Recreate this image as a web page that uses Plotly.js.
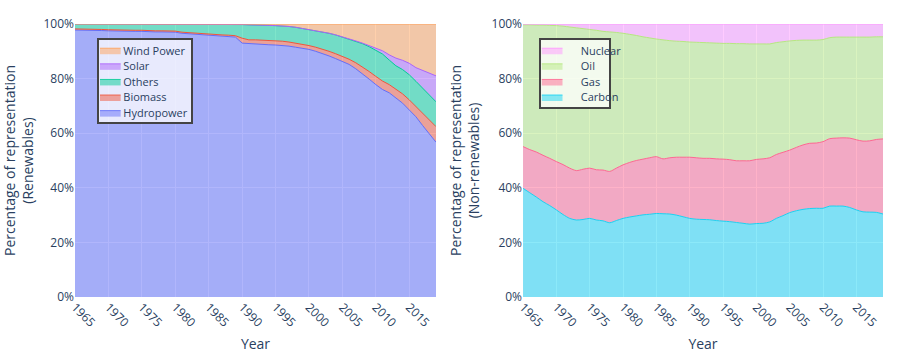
<!DOCTYPE html>
<html>
<head>
<meta charset="utf-8">
<script src="https://cdn.plot.ly/plotly-3.0.1.min.js"></script>
<style>html,body{margin:0;padding:0;background:#fff;}#chart{width:912px;height:354px;}</style>
</head>
<body>
<div id="chart"></div>
<script>
const years = [];
for (let y = 1965; y <= 2019; y++) years.push(y);

// Renewables (share of total, %)
const hydropower = [97.8,97.8,97.7,97.6,97.6,97.5,97.4,97.4,97.3,97.3,97.3,97.1,97.1,97.1,97.0,97.0,96.7,96.5,96.3,96.2,96.0,95.7,95.6,95.5,95.3,
  93.0,92.8,92.7,92.6,92.4,92.3,92.2,91.9,91.5,91.1,90.7,90.0,89.2,88.3,87.3,86.3,85.2,83.6,81.8,79.8,77.8,76.0,74.8,72.8,71.0,68.5,66.0,62.8,59.8,56.7];
const biomass = [0.4,0.4,0.4,0.4,0.4,0.4,0.4,0.4,0.4,0.4,0.4,0.4,0.4,0.4,0.4,0.4,0.4,0.4,0.4,0.4,0.4,0.5,0.5,0.5,0.5,
  1.8,1.4,1.5,1.5,1.6,1.6,1.5,1.5,1.5,1.5,1.4,1.5,1.6,1.7,1.8,1.8,1.9,2.2,2.5,2.8,3.0,3.1,3.0,3.2,3.4,3.7,3.8,4.4,5.0,5.7];
const others = [1.8,1.8,1.9,2.0,2.0,2.1,2.2,2.2,2.3,2.3,2.3,2.5,2.5,2.5,2.6,2.6,2.9,3.1,3.3,3.4,3.6,3.8,3.9,4.0,4.2,
  5.0,5.5,5.5,5.5,5.5,5.5,5.6,5.7,5.8,5.8,5.9,6.0,6.2,6.6,6.9,7.1,7.5,7.9,8.5,9.1,9.7,9.9,9.0,8.7,8.9,9.2,9.2,9.3,9.3,9.1];
const solar = [0,0,0,0,0,0,0,0,0,0,0,0,0,0,0,0,0,0,0,0,0,0,0,0,0,
  0,0,0,0,0,0,0,0,0,0,0,0,0,0,0,0.1,0.1,0.1,0.2,0.3,0.6,1.2,1.9,2.8,3.4,4.2,5.0,6.5,8.0,9.5];
const windPower = [0,0,0,0,0,0,0,0,0,0,0,0,0,0,0,0,0.1,0.1,0.1,0.1,0.1,0.1,0.1,0.1,0.1,
  0.2,0.3,0.3,0.4,0.5,0.6,0.7,0.9,1.2,1.6,2.0,2.5,3.0,3.4,4.0,4.7,5.3,6.2,7.0,8.0,8.9,9.8,11.3,12.5,13.3,14.4,16.0,17.0,17.9,19.0];

// Non-renewables (share of total, %)
const carbon = [39.8,38.2,36.6,34.9,33.5,31.9,30.2,28.8,28.2,28.4,28.8,28.2,27.9,27.2,28.0,28.8,29.3,29.7,30.1,30.3,30.6,30.5,30.4,30.0,29.4,
  28.8,28.5,28.4,28.3,28.0,27.8,27.6,27.3,27.0,26.7,26.9,27.0,27.5,28.8,29.8,30.9,31.6,32.1,32.4,32.5,32.5,33.3,33.3,33.3,32.8,31.9,31.2,31.1,31.0,30.4];
const gas = [15.3,15.8,16.5,17.0,17.3,17.7,18.3,18.4,18.1,18.4,18.4,18.4,18.6,18.8,19.2,19.6,20.0,20.3,20.4,20.7,20.8,20.1,20.6,21.2,21.8,
  22.4,22.5,22.4,22.5,22.6,22.7,22.7,22.6,22.9,23.2,23.5,23.6,23.5,23.4,23.2,22.9,23.2,23.6,23.9,23.9,24.4,24.7,24.9,25.0,25.4,25.7,25.9,26.1,26.7,27.5];
const oil = [44.6,45.7,46.5,47.7,48.7,49.8,50.7,51.7,52.3,51.5,50.8,51.1,50.8,51.1,49.7,48.2,46.9,45.8,44.8,43.9,43.1,43.6,42.9,42.5,42.4,
  42.2,42.3,42.4,42.3,42.4,42.4,42.6,42.9,42.9,42.8,42.3,42.1,41.7,41.0,40.5,40.0,39.2,38.4,37.8,37.7,37.4,37.0,37.0,36.9,37.0,37.6,38.1,38.0,37.6,37.4];
const nuclear = [0.3,0.3,0.4,0.4,0.5,0.6,0.8,1.1,1.4,1.7,2.0,2.3,2.7,2.9,3.1,3.4,3.8,4.2,4.7,5.1,5.5,5.8,6.1,6.3,6.4,
  6.6,6.7,6.8,6.9,7.0,7.1,7.1,7.2,7.2,7.3,7.3,7.3,7.3,6.8,6.5,6.2,6.0,5.9,5.9,5.9,5.7,5.0,4.8,4.8,4.8,4.8,4.8,4.8,4.7,4.7];

const leftSeries = [
  {name: 'Hydropower', y: hydropower, color: '#636efa'},
  {name: 'Biomass', y: biomass, color: '#EF553B'},
  {name: 'Others', y: others, color: '#00cc96'},
  {name: 'Solar', y: solar, color: '#ab63fa'},
  {name: 'Wind Power', y: windPower, color: '#FFA15A'}
];
const rightSeries = [
  {name: 'Carbon', y: carbon, color: '#19d3f3'},
  {name: 'Gas', y: gas, color: '#FF6692'},
  {name: 'Oil', y: oil, color: '#B6E880'},
  {name: 'Nuclear', y: nuclear, color: '#FF97FF'}
];

const traces = [];
leftSeries.forEach(s => traces.push({
  type: 'scatter', mode: 'lines', x: years, y: s.y, name: s.name,
  stackgroup: 'ren', groupnorm: 'percent',
  line: {color: s.color, width: 1}, xaxis: 'x', yaxis: 'y', legend: 'legend'
}));
rightSeries.forEach(s => traces.push({
  type: 'scatter', mode: 'lines', x: years, y: s.y, name: s.name,
  stackgroup: 'non', groupnorm: 'percent',
  line: {color: s.color, width: 1, shape: 'spline', smoothing: 0.8}, xaxis: 'x2', yaxis: 'y2', legend: 'legend2'
}));

const xax = {
  range: [1965, 2019], tick0: 1965, dtick: 5, tickangle: 45,
  gridcolor: 'white', linecolor: 'white', zeroline: false, showline: false,
  title: {text: 'Year', font: {size: 14}}, automargin: false
};
const yax = {
  range: [0, 100], dtick: 20, ticksuffix: '%',
  gridcolor: 'white', zerolinecolor: 'white', showline: false, automargin: false
};
const legendBase = {
  bgcolor: 'rgba(255,255,255,0.75)', bordercolor: '#444', borderwidth: 2,
  traceorder: 'reversed', xanchor: 'left', yanchor: 'top', font: {size: 11},
  itemwidth: 30
};

const layout = {
  width: 912, height: 354,
  margin: {l: 75, r: 29, t: 24, b: 57},
  paper_bgcolor: 'white', plot_bgcolor: '#E5ECF6',
  font: {family: '"Open Sans", verdana, arial, sans-serif', color: '#2a3f5f', size: 12},
  showlegend: true,
  xaxis: Object.assign({}, xax, {domain: [0, 0.4468], anchor: 'y'}),
  yaxis: Object.assign({}, yax, {domain: [0, 1], anchor: 'x',
    title: {text: 'Percentage of representation<br>(Renewables)', font: {size: 14}, standoff: 24}}),
  xaxis2: Object.assign({}, xax, {domain: [0.5545, 1], anchor: 'y2'}),
  yaxis2: Object.assign({}, yax, {domain: [0, 1], anchor: 'x2',
    title: {text: 'Percentage of representation<br>(Non-renewables)', font: {size: 14}, standoff: 8}}),
  legend: Object.assign({}, legendBase, {x: 0.0272, y: 0.949}),
  legend2: Object.assign({}, legendBase, {x: 0.574, y: 0.949})
};

// tighten legend entries (row pitch, swatch width, box size) to match the reference styling
const legendBoxWidth = {legend: 96, legend2: 72};
function compactLegend(g, key) {
  const items = Array.from(g.querySelectorAll('g.traces'));
  if (!items.length) return;
  const pitch = 15.6, top = 12.3, bw = 2, textX = 24.3;
  items.forEach((it, i) => {
    const m = /translate\(\s*([-\d.e]+)[\s,]+([-\d.e]+)\s*\)/.exec(it.getAttribute('transform') || '');
    let x = m ? parseFloat(m[1]) : bw;
    if (!isFinite(x)) x = bw;
    it.setAttribute('transform', 'translate(' + x + ',' + (top + i * pitch) + ')');
    const layers = it.querySelector('g.layers');
    if (layers) layers.setAttribute('transform', 'translate(-2.45,0) scale(0.69,1)');
    const txt = it.querySelector('text.legendtext');
    if (txt) {
      txt.setAttribute('x', textX);
      txt.querySelectorAll('tspan[x]').forEach(ts => ts.setAttribute('x', textX));
    }
  });
  const W = legendBoxWidth[key];
  const H = top + (items.length - 1) * pitch + 11.7;
  g.querySelectorAll(':scope > rect.bg').forEach(bg => {
    bg.setAttribute('x', bw / 2); bg.setAttribute('y', bw / 2);
    bg.setAttribute('width', W - bw); bg.setAttribute('height', H - bw);
  });
}
function fixLegends(gd) {
  gd.querySelectorAll('g.legend2').forEach(g => { try { compactLegend(g, 'legend2'); } catch (e) {} });
  gd.querySelectorAll('g.legend').forEach(g => { try { compactLegend(g, 'legend'); } catch (e) {} });
}

Plotly.newPlot('chart', traces, layout, {displayModeBar: false, staticPlot: true}).then(gd => {
  fixLegends(gd);
  setTimeout(() => fixLegends(gd), 200);
});
</script>
</body>
</html>
